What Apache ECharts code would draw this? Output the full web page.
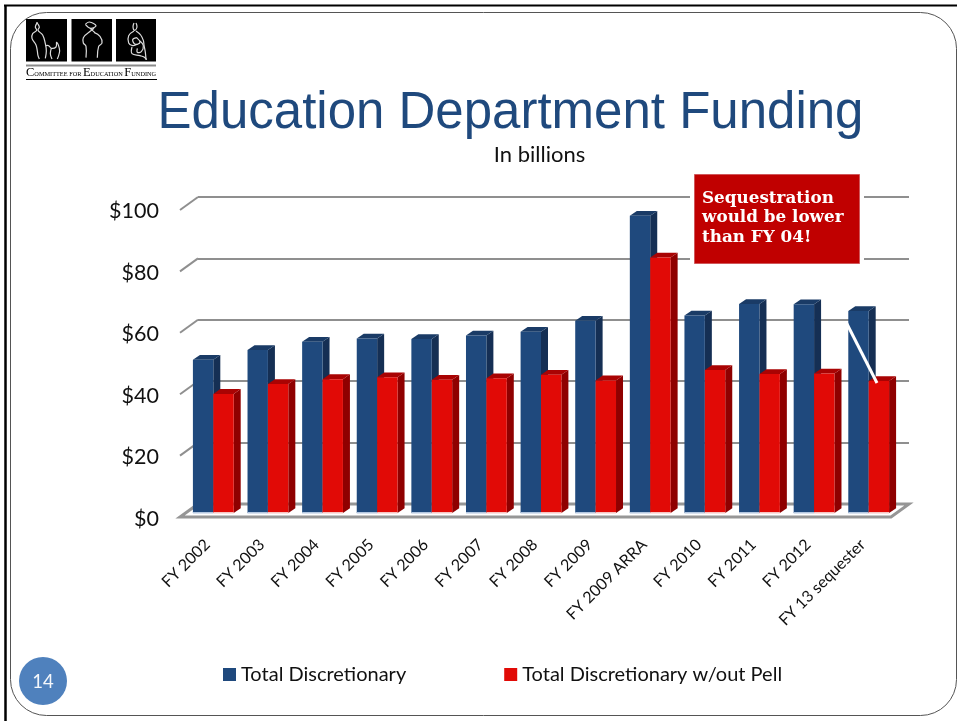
<!DOCTYPE html>
<html>
<head>
<meta charset="utf-8">
<title>Education Department Funding</title>
<style>html,body{margin:0;padding:0;background:#fff}#chart{width:957px;height:721px}</style>
<script src="https://cdn.jsdelivr.net/npm/echarts@6/dist/echarts.min.js"></script>
</head>
<body>
<div id="chart"></div>
<script>
// Budget years on the category axis
const fiscalYears = ['FY 2002','FY 2003','FY 2004','FY 2005','FY 2006','FY 2007','FY 2008','FY 2009','FY 2009 ARRA','FY 2010','FY 2011','FY 2012','FY 13 sequester'];
// Funding in billions of dollars
const totalDiscretionary = [49.9,53.1,55.8,56.8,56.7,57.8,59.0,62.6,96.8,64.3,68.1,68.0,65.8];
const withoutPell = [38.8,42.0,43.6,44.2,43.4,43.9,45.0,43.2,83.2,46.6,45.3,45.4,43.0];
const valueTicks = [0,20,40,60,80,100];

const SANS = 'Lato, "Open Sans", sans-serif';
const DEPTH = {x: 18, y: -13};       // offset from the floor's front edge to the back wall
const BAR = {half: 20.4, sideX: 7, sideY: -4.8};
const GRAY = '#8f8f8f';

// Extruded bar: front, top and side faces, extending to the left or right of the category centre
function barRenderer(side, front, top, flank, foot) {
  return function (params, api) {
    const p = api.coord([api.value(0), api.value(1)]);
    const base = api.coord([api.value(0), 0]);
    const x0 = side < 0 ? p[0] - BAR.half : p[0];
    const x1 = x0 + BAR.half;
    const dx = BAR.sideX, dy = BAR.sideY;
    return {type: 'group', children: [
      {type: 'polygon', shape: {points: [[x1,p[1]],[x1+dx,p[1]+dy],[x1+dx,base[1]+dy],[x1,base[1]]]}, style: {fill: flank}},
      {type: 'polygon', shape: {points: [[x0,p[1]],[x0+dx,p[1]+dy],[x1+dx,p[1]+dy],[x1,p[1]]]}, style: {fill: top}},
      {type: 'rect', shape: {x: x0, y: p[1], width: x1-x0, height: base[1]-p[1]}, style: {fill: front}},
      {type: 'rect', shape: {x: x0, y: base[1]-1, width: x1-x0, height: 1.5}, style: {fill: foot}}
    ]};
  };
}

// Slanted tick joining each back-wall gridline to the axis labels
function renderDepthTick(params, api) {
  const p = api.coord([0, api.value(0)]);
  return {type: 'line', shape: {x1: p[0], y1: p[1], x2: p[0]-DEPTH.x, y2: p[1]-DEPTH.y},
    style: {stroke: GRAY, lineWidth: 2}};
}

// Floor parallelogram under the bars
function renderFloor(params, api) {
  const a = api.coord([0, 0]), b = api.coord([1, 0]);
  return {type: 'polyline', shape: {points: [
      [a[0],a[1]],[b[0],b[1]],[b[0]-DEPTH.x,b[1]-DEPTH.y],[a[0]-DEPTH.x,a[1]-DEPTH.y],[a[0],a[1]]
    ]}, style: {stroke: '#969696', lineWidth: 3, fill: 'none'}};
}

// Strokes for the three figures of the logo, in tile-sheet units (3 per pixel)
const logoStrokes = [
  [[52,22],[46,36],[50,46],[38,56],[36,70],[48,90],[52,108],[54,122],[58,132]],
  [[50,22],[58,36],[54,46],[68,60],[76,86],[79,108],[76,130]],
  [[78,92],[86,92],[94,100],[108,96],[110,82],[118,100],[118,114],[112,132]],
  [[94,100],[91,116],[96,132]],
  [[196,28],[208,21],[228,32],[212,40],[196,28]],
  [[210,40],[224,52]],
  [[222,40],[204,54]],
  [[204,54],[190,68],[190,84],[198,94],[198,128]],
  [[222,52],[240,64],[246,84],[236,94],[232,128]],
  [[342,24],[339,36],[344,46],[351,36],[348,24]],
  [[342,48],[326,62],[326,84],[338,92],[352,88]],
  [[348,48],[362,60],[370,76],[372,90],[376,112],[378,134]],
  [[350,68],[338,74],[346,88],[360,82],[350,68]],
  [[336,96],[336,116],[360,122],[372,126],[380,134]],
  [[360,78],[370,92],[364,110],[352,112],[352,100]]
];

const chart = echarts.init(document.getElementById('chart'), null, {renderer: 'canvas'});

chart.setOption({
  animation: false,
  backgroundColor: '#ffffff',
  title: [
    {text: 'Education Department Funding', left: 505.5, top: 83, textAlign: 'center',
      textStyle: {fontFamily: '"Liberation Sans", Arial, sans-serif', fontWeight: 'normal', fontSize: 51, color: '#1f497d'}},
    {text: 'In billions', left: 534.5, top: 139, textAlign: 'center',
      textStyle: {fontFamily: SANS, fontWeight: 'normal', fontSize: 22, color: '#111'}}
  ],
  legend: {
    left: 218, top: 659.5, itemWidth: 13, itemHeight: 13, itemGap: 98,
    icon: 'rect',
    textStyle: {fontFamily: SANS, fontSize: 20, color: '#111'},
    data: ['Total Discretionary', 'Total Discretionary w/out Pell']
  },
  grid: [
    {left: 186, width: 710, top: 206, height: 307},   // plane of the bars
    {left: 180, width: 710, top: 211, height: 308},   // front edge carrying the axis labels
    {left: 198, width: 711, top: 197, height: 307}    // back wall with gridlines
  ],
  xAxis: [
    {gridIndex: 0, type: 'category', data: fiscalYears, show: false},
    {gridIndex: 1, type: 'category', data: fiscalYears,
      axisLine: {show: false}, axisTick: {show: false},
      axisLabel: {interval: 0, rotate: 45, margin: 23, fontFamily: SANS, fontSize: 16, color: '#111'}},
    {gridIndex: 2, type: 'value', min: 0, max: 1, show: false}
  ],
  yAxis: [
    {gridIndex: 0, type: 'value', min: 0, max: 100, interval: 20, show: false},
    {gridIndex: 1, type: 'value', min: 0, max: 100, interval: 20,
      axisLine: {show: false}, axisTick: {show: false}, splitLine: {show: false},
      axisLabel: {margin: 21, fontFamily: SANS, fontSize: 21.5, color: '#111', formatter: v => '$' + v}},
    {gridIndex: 2, type: 'value', min: 0, max: 100, interval: 20,
      axisLine: {show: false}, axisTick: {show: false}, axisLabel: {show: false},
      splitLine: {show: true, lineStyle: {color: GRAY, width: 2}}}
  ],
  series: [
    {type: 'custom', name: 'depth ticks', xAxisIndex: 2, yAxisIndex: 2, z: 1, silent: true,
      renderItem: renderDepthTick, data: valueTicks.slice(1).map(v => [v]), encode: {y: 0}},
    {type: 'custom', name: 'floor', xAxisIndex: 2, yAxisIndex: 2, z: 1, silent: true,
      renderItem: renderFloor, data: [[0, 0]], clip: false},
    {type: 'custom', name: 'Total Discretionary', xAxisIndex: 0, yAxisIndex: 0, z: 3, clip: false,
      itemStyle: {color: '#1f497d'},
      renderItem: barRenderer(-1, '#1f497d', '#1a3b66', '#152f54', '#b4c7e0'),
      data: totalDiscretionary.map((v, i) => [i, v]), encode: {x: 0, y: 1}},
    {type: 'custom', name: 'Total Discretionary w/out Pell', xAxisIndex: 0, yAxisIndex: 0, z: 4, clip: false,
      itemStyle: {color: '#e10a06'},
      renderItem: barRenderer(1, '#e10a06', '#a90303', '#8f0000', '#f7c4c2'),
      data: withoutPell.map((v, i) => [i, v]), encode: {x: 0, y: 1}}
  ],
  graphic: {elements: [
    // Slide frame
    {type: 'line', z: 50, shape: {x1: 4, y1: 5.5, x2: 957, y2: 5.5}, style: {stroke: '#000', lineWidth: 2}},
    {type: 'line', z: 50, shape: {x1: 5.5, y1: 5, x2: 5.5, y2: 721}, style: {stroke: '#000', lineWidth: 2.5}},
    {type: 'rect', z: 50, shape: {x: 10.5, y: 12.5, width: 946, height: 703, r: 36},
      style: {stroke: '#555', lineWidth: 1, fill: 'none'}},
    // Logo tiles
    {type: 'rect', z: 50, shape: {x: 26, y: 19, width: 41, height: 42.5}, style: {fill: '#000'}},
    {type: 'rect', z: 50, shape: {x: 71.5, y: 19, width: 40.5, height: 42.5}, style: {fill: '#000'}},
    {type: 'rect', z: 50, shape: {x: 116, y: 19, width: 40, height: 42.5}, style: {fill: '#000'}},
    ...logoStrokes.map(points => ({type: 'polyline', z: 51, x: 20, y: 15, scaleX: 1/3, scaleY: 1/3,
      shape: {points, smooth: 0.4}, style: {stroke: '#dcdcdc', lineWidth: 3.6, fill: 'none'}})),
    {type: 'line', z: 50, shape: {x1: 26, y1: 65.5, x2: 156, y2: 65.5}, style: {stroke: '#8a8a8a', lineWidth: 2}},
    {type: 'line', z: 50, shape: {x1: 26, y1: 79.5, x2: 157, y2: 79.5}, style: {stroke: '#000', lineWidth: 1}},
    {type: 'text', z: 50, x: 26, y: 67, style: {
      text: '{b|C}{s|OMMITTEE FOR }{b|E}{s|DUCATION }{b|F}{s|UNDING}',
      fontFamily: '"Liberation Serif", serif',
      rich: {
        b: {fontSize: 12.5, fontFamily: '"Liberation Serif", serif', fill: '#000', lineHeight: 12},
        s: {fontSize: 6.3, fontFamily: '"Liberation Serif", serif', fill: '#000', lineHeight: 12, padding: [3,0,0,0]}
      }}},
    // Callout over the chart; the white border interrupts the gridlines behind it
    {type: 'rect', z: 60, shape: {x: 690, y: 170, width: 174, height: 98}, style: {fill: '#fff'}},
    {type: 'rect', z: 61, shape: {x: 694.5, y: 174.5, width: 165, height: 89},
      style: {fill: '#c00000', stroke: '#d0575a', lineWidth: 1}},
    {type: 'text', z: 62, x: 702, y: 188.5, style: {
      text: 'Sequestration\nwould be lower\nthan FY 04!',
      fontFamily: '"DejaVu Serif", serif', fontWeight: 'bold', fontSize: 16.8, lineHeight: 19.7, fill: '#fff'}},
    // Pointer from the callout towards the final pair of bars
    {type: 'line', z: 62, shape: {x1: 846, y1: 322, x2: 877, y2: 383}, style: {stroke: '#fff', lineWidth: 3}},
    // Slide number
    {type: 'circle', z: 50, shape: {cx: 43, cy: 681, r: 24}, style: {fill: '#4f81bd'}},
    {type: 'text', z: 51, x: 43, y: 682, style: {text: '14', fontFamily: SANS, fontSize: 18.5, fill: '#f4f7fb',
      align: 'center', verticalAlign: 'middle'}}
  ]}
});
</script>
</body>
</html>
